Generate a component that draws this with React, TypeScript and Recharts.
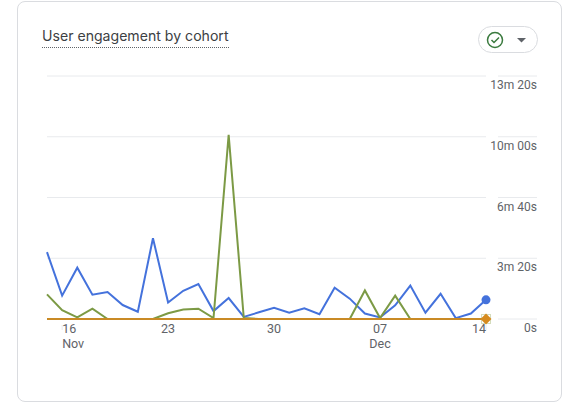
import { LineChart, Line, XAxis, YAxis, CartesianGrid } from 'recharts'

const days = [
  '15 Nov', '16 Nov', '17 Nov', '18 Nov', '19 Nov', '20 Nov', '21 Nov', '22 Nov', '23 Nov', '24 Nov',
  '25 Nov', '26 Nov', '27 Nov', '28 Nov', '29 Nov', '30 Nov', '01 Dec', '02 Dec', '03 Dec', '04 Dec',
  '05 Dec', '06 Dec', '07 Dec', '08 Dec', '09 Dec', '10 Dec', '11 Dec', '12 Dec', '13 Dec', '14 Dec',
]
// seconds of engagement per cohort
const blueValues = [220, 77, 169, 80, 89, 46, 24, 266, 54, 93, 115, 26, 69, 7, 22, 37, 21, 35, 16, 103, 67, 18, 5, 45, 110, 21, 83, 3, 18, 63]
const greenValues = [81, 29, 5, 34, 0, 0, 0, 0, 19, 31, 34, 3, 606, 3, 0, 0, 0, 0, 0, 0, 0, 94, 3, 77, 0, 0, 0, 0, 0, 0]
const orangeValues = days.map(() => 0)

const xTicks = ['16 Nov', '23 Nov', '30 Nov', '07 Dec', '14 Dec']
const yTicks = [0, 200, 400, 600, 800]
const yLabels: Record<number, string> = { 0: '0s', 200: '3m 20s', 400: '6m 40s', 600: '10m 00s', 800: '13m 20s' }

const chartData = days.map((day, i) => ({
  day,
  blue: blueValues[i],
  green: greenValues[i],
  orange: orangeValues[i],
}))

const font = 'Roboto, sans-serif'
const lastIndex = days.length - 1

function XTick({ x, y, payload }: any) {
  const [num, month] = payload.value.split(' ')
  const first = payload.value === xTicks[0]
  const last = payload.value === xTicks[xTicks.length - 1]
  const anchor = first ? 'start' : last ? 'end' : 'middle'
  const showMonth = first || payload.value === '07 Dec'
  return (
    <g fontFamily={font} fontSize={12.5} fill="#5f6368">
      <line x1={x} x2={x} y1={y} y2={y + 5} stroke="#e8eaed" />
      <text x={x} y={y + 8} textAnchor={anchor}>{num}</text>
      {showMonth && <text x={x} y={y + 23} textAnchor={anchor}>{month}</text>}
    </g>
  )
}

function YTick({ x, y, payload }: any) {
  return (
    <g>
      <line x1={x + 4} x2={537} y1={y} y2={y} stroke="#e8eaed" />
      <text x={537} y={y + 13} textAnchor="end" fontFamily={font} fontSize={12} fill="#5f6368">
        {yLabels[payload.value]}
      </text>
    </g>
  )
}

const BlueDot = ({ cx, cy, index }: any) =>
  index === lastIndex ? <circle key={index} cx={cx} cy={cy} r={4.5} fill="#4472dc" /> : <g key={index} />

const GreenDot = ({ cx, cy, index }: any) =>
  index === lastIndex ? (
    <rect key={index} x={cx - 4.5} y={cy - 4.5} width={9} height={9} fill="none" stroke="#a8b878" strokeDasharray="1 1" />
  ) : <g key={index} />

const OrangeDot = ({ cx, cy, index }: any) =>
  index === lastIndex ? (
    <path key={index} d={`M${cx} ${cy - 5.5}L${cx + 5.5} ${cy}L${cx} ${cy + 5.5}L${cx - 5.5} ${cy}Z`} fill="#d68a1f" />
  ) : <g key={index} />

export default function App() {
  return (
    <div style={{ position: 'absolute', left: 0, top: 0, width: 580, height: 405, background: '#fff' }}>
      <div
        style={{
          position: 'absolute', left: 17, top: 1, width: 545, height: 401,
          border: '1px solid #dadce0', borderRadius: 8, boxSizing: 'border-box',
        }}
      />
      <div
        style={{
          position: 'absolute', left: 42, top: 27, height: 20, lineHeight: '18px',
          fontFamily: 'Inter, sans-serif', fontSize: 14.1, color: '#3c4043',
          borderBottom: '1px dotted #5f6368',
        }}
      >
        User engagement by cohort
      </div>
      <div
        style={{
          position: 'absolute', left: 478, top: 26, width: 60, height: 27,
          border: '1px solid #dadce0', borderRadius: 14, boxSizing: 'border-box',
        }}
      >
        <svg width={58} height={25} style={{ display: 'block' }}>
          <circle cx={16} cy={13} r={7.5} fill="none" stroke="#3a7a3e" strokeWidth={1.5} />
          <path d="M12.5 13l2.5 2.5l5-5" fill="none" stroke="#3a7a3e" strokeWidth={1.5} />
          <path d="M38 11h9l-4.5 4.5z" fill="#5f6368" />
        </svg>
      </div>
      <div style={{ position: 'absolute', left: 0, top: 0 }}>
        <LineChart
          width={580}
          height={405}
          data={chartData}
          margin={{ top: 76, right: 43, bottom: 51, left: 47 }}
        >
          <CartesianGrid horizontal vertical={false} stroke="#e8eaed" />
          <XAxis
            dataKey="day"
            ticks={xTicks}
            interval={0}
            axisLine={false}
            tickLine={false}
            tickMargin={0}
            height={35}
            tick={<XTick />}
          />
          <YAxis
            orientation="right"
            domain={[0, 800]}
            ticks={yTicks}
            width={51}
            axisLine={false}
            tickLine={false}
            tick={<YTick />}
          />
          <Line dataKey="blue" stroke="#4472dc" strokeWidth={2} dot={<BlueDot />} activeDot={false} isAnimationActive={false} />
          <Line dataKey="green" stroke="#7c9a45" strokeWidth={2} dot={<GreenDot />} activeDot={false} isAnimationActive={false} />
          <Line dataKey="orange" stroke="#c98a25" strokeWidth={2} dot={<OrangeDot />} activeDot={false} isAnimationActive={false} />
        </LineChart>
      </div>
    </div>
  )
}
